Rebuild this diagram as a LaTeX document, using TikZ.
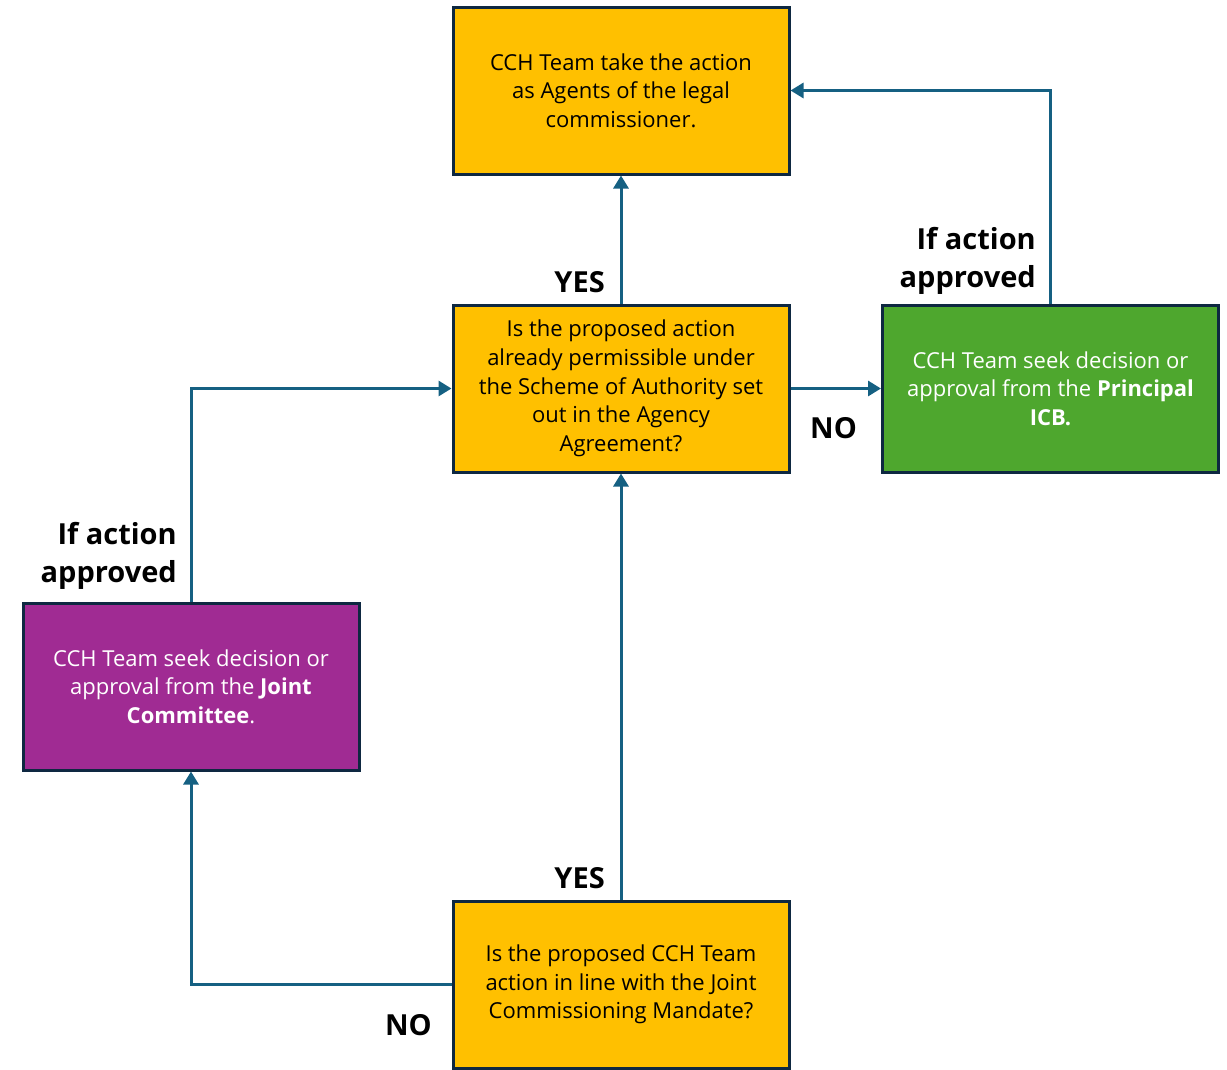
\documentclass[tikz,border=0pt]{standalone}
\usepackage{fontspec}
\setmainfont{Open Sans}
\usetikzlibrary{arrows.meta}
\definecolor{boxline}{HTML}{0E2841}
\definecolor{flowline}{HTML}{156082}
\definecolor{decision}{HTML}{FFC000}
\definecolor{icbgreen}{HTML}{4EA72E}
\definecolor{jcpurple}{HTML}{A02B93}
\tikzset{
  card/.style={draw=boxline, line width=3pt, minimum width=336pt, minimum height=167pt,
    align=center, inner sep=0pt, font=\fontsize{22}{28.7}\selectfont},
  yellowcard/.style={card, fill=decision, text=black},
  greencard/.style={card, fill=icbgreen, text=white},
  purplecard/.style={card, fill=jcpurple, text=white},
  flow/.style={draw=flowline, line width=3pt, -{Triangle[length=13pt,width=15pt]}},
  tag/.style={font=\bfseries\fontsize{29}{38}\selectfont, inner sep=0pt, align=right}
}
\begin{document}
\begin{tikzpicture}[x=1pt,y=-1pt]
\useasboundingbox (0,0) rectangle (1227,1069);
% boxes
\node[yellowcard] (act) at (621,90.5) {CCH Team take the action\\as Agents of the legal\\commissioner.};
\node[yellowcard] (soa) at (621,388.5) {Is the proposed action\\already permissible under\\the Scheme of Authority set\\out in the Agency\\Agreement?};
\node[greencard] (icb) at (1050.5,388.5) {CCH Team seek decision or\\approval from the \textbf{Principal}\\\textbf{ICB.}};
\node[purplecard] (jc) at (191,686.5) {CCH Team seek decision or\\approval from the \textbf{Joint}\\\textbf{Committee}.};
\node[yellowcard] (jcm) at (621,984.5) {Is the proposed CCH Team\\action in line with the Joint\\Commissioning Mandate?};
% connectors
\draw[flow] (soa.north) -- (act.south);
\draw[flow] (soa.east) -- (icb.west);
\draw[flow] (icb.north) |- (act.east);
\draw[flow] (jc.north) |- (soa.west);
\draw[flow] (jcm.north) -- (soa.south);
\draw[flow] (jcm.west) -| (jc.south);
% labels
\node[tag, anchor=base east] (yes1) at (605,292) {YES};
\node[tag, anchor=base west] (no1) at (810,438) {NO};
\node[tag, anchor=base east] (ok1) at (1036,287) {If action\\approved};
\node[tag, anchor=base east] (ok2) at (177,582) {If action\\approved};
\node[tag, anchor=base east] (yes2) at (605,888) {YES};
\node[tag, anchor=base east] (no2) at (432,1035) {NO};
\end{tikzpicture}
\end{document}
